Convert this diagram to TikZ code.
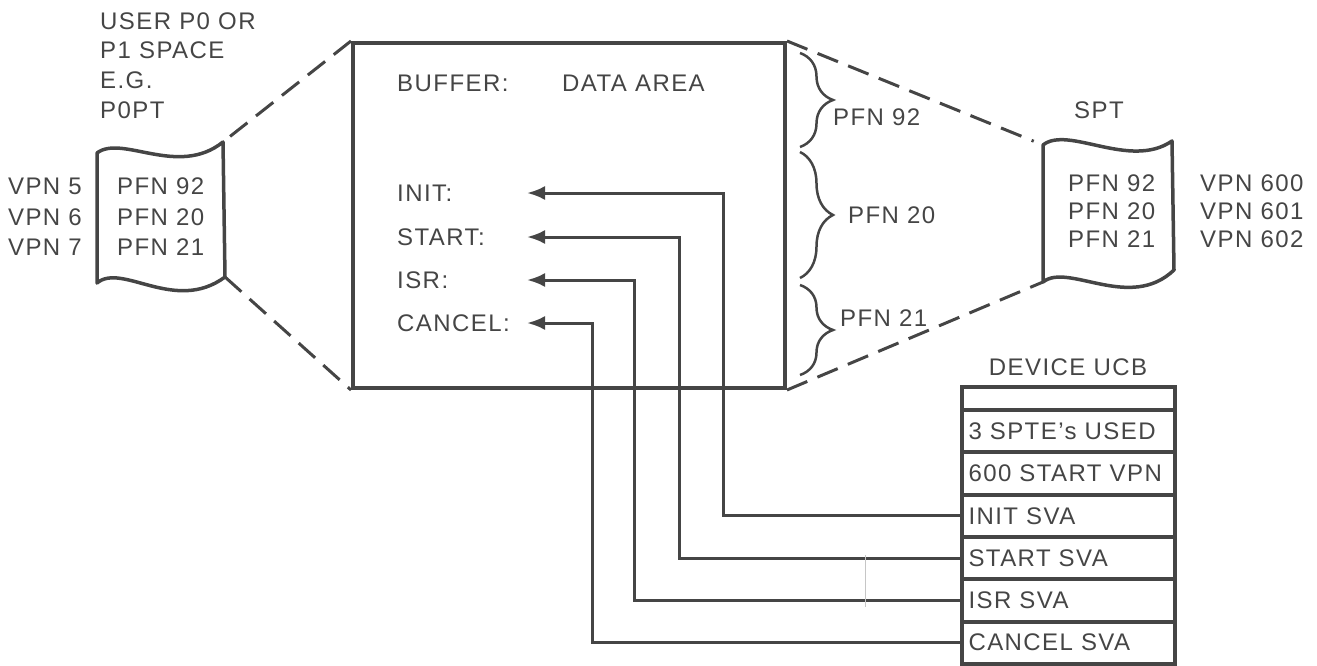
\documentclass[tikz,border=0pt]{standalone}
\usepackage{fontspec}
\setmainfont{Liberation Sans}[LetterSpace=6]
\usetikzlibrary{positioning,arrows.meta,decorations.pathreplacing}
\definecolor{ink}{HTML}{454545}

\begin{document}
\begin{tikzpicture}[x=1pt, y=-1pt,
    every node/.style={text=ink, font=\fontsize{24}{30}\selectfont, inner sep=0pt},
    conn/.style={draw=ink, line width=3pt, -{Latex[length=18pt,width=14pt]}},
    zoomline/.style={draw=ink, line width=3pt, dash pattern=on 22pt off 11pt},
    pagewave/.style={draw=ink, line width=3.5pt, line join=round},
    ucbrow/.style={draw=ink, line width=4pt, outer sep=0pt, minimum width=213pt,
        minimum height=42.3pt, text width=200pt, inner xsep=6.5pt, align=left},
    pfnbrace/.style={draw=ink, line width=2.5pt, decorate, decoration={brace, amplitude=33pt}}
    ]
    \useasboundingbox (0,0) rectangle (1317,666);

    % process space page table
    \node[anchor=west, align=left, font=\fontsize{24}{29.7}\selectfont] (userlbl) at (100,65.5)
        {USER P0 OR\\P1 SPACE\\E.G.\\P0PT};
    \coordinate (ldocTL) at (97,153);
    \coordinate (ldocTR) at (223,142);
    \coordinate (ldocBR) at (225,277);
    \coordinate (ldocBL) at (97,283);
    \draw[pagewave] (ldocTL) .. controls (122,134) and (178,178) .. (ldocTR)
        -- (ldocBR) .. controls (175,314) and (122,262) .. (ldocBL) -- cycle;
    \node[anchor=west, align=left, font=\fontsize{24}{30.5}\selectfont] (lpfn) at (117,217)
        {PFN 92\\PFN 20\\PFN 21};
    \node[anchor=east, align=right, font=\fontsize{24}{30.5}\selectfont] (lvpn) at (82,217)
        {VPN 5\\VPN 6\\VPN 7};

    % buffer
    \node[draw=ink, line width=4pt, minimum width=432pt, minimum height=345pt] (buf) at (569,215.5) {};
    \node[anchor=west] (bufferlbl) at (397,83) {BUFFER:};
    \node[anchor=west] (datalbl) at (562,83) {DATA AREA};
    \node[anchor=west] (initlbl) at (397,193) {INIT:};
    \node[anchor=west] (startlbl) at (397,237) {START:};
    \node[anchor=west] (isrlbl) at (397,280) {ISR:};
    \node[anchor=west] (cancellbl) at (397,323) {CANCEL:};
    \coordinate (initin) at (527,193);
    \coordinate (startin) at (527,237);
    \coordinate (isrin) at (527,280);
    \coordinate (cancelin) at (527,323);

    % page frames
    \draw[pfnbrace] (800,53) -- (800,147);
    \draw[pfnbrace] (800,152) -- (800,278);
    \draw[pfnbrace] (800,285) -- (800,375);
    \node[anchor=west] (pfn92) at (833,117) {PFN 92};
    \node[anchor=west] (pfn20) at (848,215) {PFN 20};
    \node[anchor=west] (pfn21) at (840,318) {PFN 21};

    % system page table
    \node (sptlbl) at (1099,110) {SPT};
    \coordinate (sdocTL) at (1043,145);
    \coordinate (sdocTR) at (1172,141);
    \coordinate (sdocBR) at (1174,270);
    \coordinate (sdocBL) at (1043,282);
    \draw[pagewave] (sdocTL) .. controls (1068,125) and (1130,170) .. (sdocTR)
        -- (sdocBR) .. controls (1130,312) and (1068,262) .. (sdocBL) -- cycle;
    \node[anchor=west, align=left, font=\fontsize{24}{28}\selectfont] (spfn) at (1068,211)
        {PFN 92\\PFN 20\\PFN 21};
    \node[anchor=west, align=left, font=\fontsize{24}{28}\selectfont] (svpn) at (1200,211)
        {VPN 600\\VPN 601\\VPN 602};

    \draw[zoomline] (buf.north west) -- (ldocTR);
    \draw[zoomline] (ldocBR) -- (buf.south west);
    \draw[zoomline, shorten >=10pt] (buf.north east) -- (sdocTL);
    \draw[zoomline] (buf.south east) -- (sdocBL);

    % device UCB
    \node (ucblbl) at (1068,367) {DEVICE UCB};
    \node[ucbrow, anchor=north west, minimum height=23pt] (ucbtop) at (962,387) {};
    \node[ucbrow, below=0pt of ucbtop] (ucbspte) {3 SPTE’s USED};
    \node[ucbrow, below=0pt of ucbspte] (ucbvpn) {600 START VPN};
    \node[ucbrow, below=0pt of ucbvpn] (ucbinit) {INIT SVA};
    \node[ucbrow, below=0pt of ucbinit] (ucbstart) {START SVA};
    \node[ucbrow, below=0pt of ucbstart] (ucbisr) {ISR SVA};
    \node[ucbrow, below=0pt of ucbisr] (ucbcancel) {CANCEL SVA};

    \draw[conn] (ucbinit.west) -| ([xshift=196pt]initin) -- (initin);
    \draw[conn] (ucbstart.west) -| ([xshift=152pt]startin) -- (startin);
    \draw[conn] (ucbisr.west) -| ([xshift=107pt]isrin) -- (isrin);
    \draw[conn] (ucbcancel.west) -| ([xshift=65pt]cancelin) -- (cancelin);

    \draw[gray!45, line width=0.6pt] (865,555) -- (865,607);
\end{tikzpicture}
\end{document}
